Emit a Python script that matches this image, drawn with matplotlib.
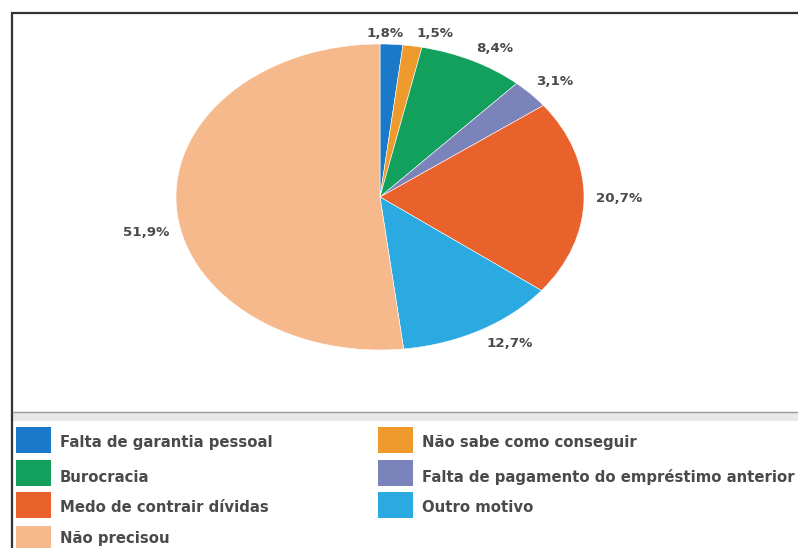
import numpy as np
import matplotlib.pyplot as plt
from matplotlib.patches import Rectangle

# --- DATA ---
labels = ["Falta de garantia pessoal", "Não sabe como conseguir", "Burocracia",
          "Falta de pagamento do empréstimo anterior", "Medo de contrair dívidas",
          "Outro motivo", "Não precisou"]
values = [1.8, 1.5, 8.4, 3.1, 20.7, 12.7, 51.9]
colors = ["#1a79c9", "#ee9a2c", "#12a05c", "#7b83bb", "#e9622c", "#2ba9e1", "#f6b98b"]

# legend order: two columns, rows filled left to right
legend_order = [0, 1, 2, 3, 4, 5, 6]

# label nudges (degrees clockwise, radius) per wedge
nudge_ang = [-2, 5, 3, 1, 0, -4, -8]
nudge_rad = [1.07, 1.10, 1.12, 1.14, 1.17, 1.15, 1.17]

W, H = 798, 548
fig = plt.figure(figsize=(W/100, H/100), dpi=100)

# pie occupies an ellipse: x 176..584, y 44..350 (pixels from top-left)
px0, px1, py0, py1 = 176, 584, 44, 350
ax = fig.add_axes([px0/W, 1 - py1/H, (px1-px0)/W, (py1-py0)/H])
wedges, _ = ax.pie(values, colors=colors, startangle=90, counterclock=False,
                   wedgeprops=dict(edgecolor="white", linewidth=0.4))
ax.set_aspect("auto")
ax.set_xlim(-1, 1)
ax.set_ylim(-1, 1)
ax.set_axis_off()

for i, w in enumerate(wedges):
    mid = np.deg2rad((w.theta1 + w.theta2) / 2 - nudge_ang[i])
    r = nudge_rad[i]
    ax.text(r*np.cos(mid), r*np.sin(mid), f"{values[i]:.1f}%".replace(".", ","),
            ha="center", va="center", fontsize=9.6, fontweight="bold",
            color="#4a4a4a", clip_on=False)

# overlay in pixel coordinates for frame and legend
ov = fig.add_axes([0, 0, 1, 1], zorder=-1)
ov.set_xlim(0, W)
ov.set_ylim(H, 0)
ov.set_axis_off()

ov.plot([12, 12, W], [H, 13, 13], color="#333333", lw=1.6, solid_joinstyle="miter")
ov.add_patch(Rectangle((13, 412), W-13, 9, facecolor="#e8e8e8", edgecolor="none"))
ov.plot([13, W], [412, 412], color="#9a9a9a", lw=1)

col_x = [16, 378]
patch_y = [427, 460, 492, 526]
text_y = [442, 477, 507, 538]
for k, idx in enumerate(legend_order):
    row, col = divmod(k, 2)
    ov.add_patch(Rectangle((col_x[col], patch_y[row]), 35, 26,
                           facecolor=colors[idx], edgecolor="none"))
    ov.text(col_x[col] + 44, text_y[row], labels[idx], ha="left", va="center",
            fontsize=10.7, fontweight="bold", color="#4a4a4a")

fig.savefig("out.png", dpi=100)
